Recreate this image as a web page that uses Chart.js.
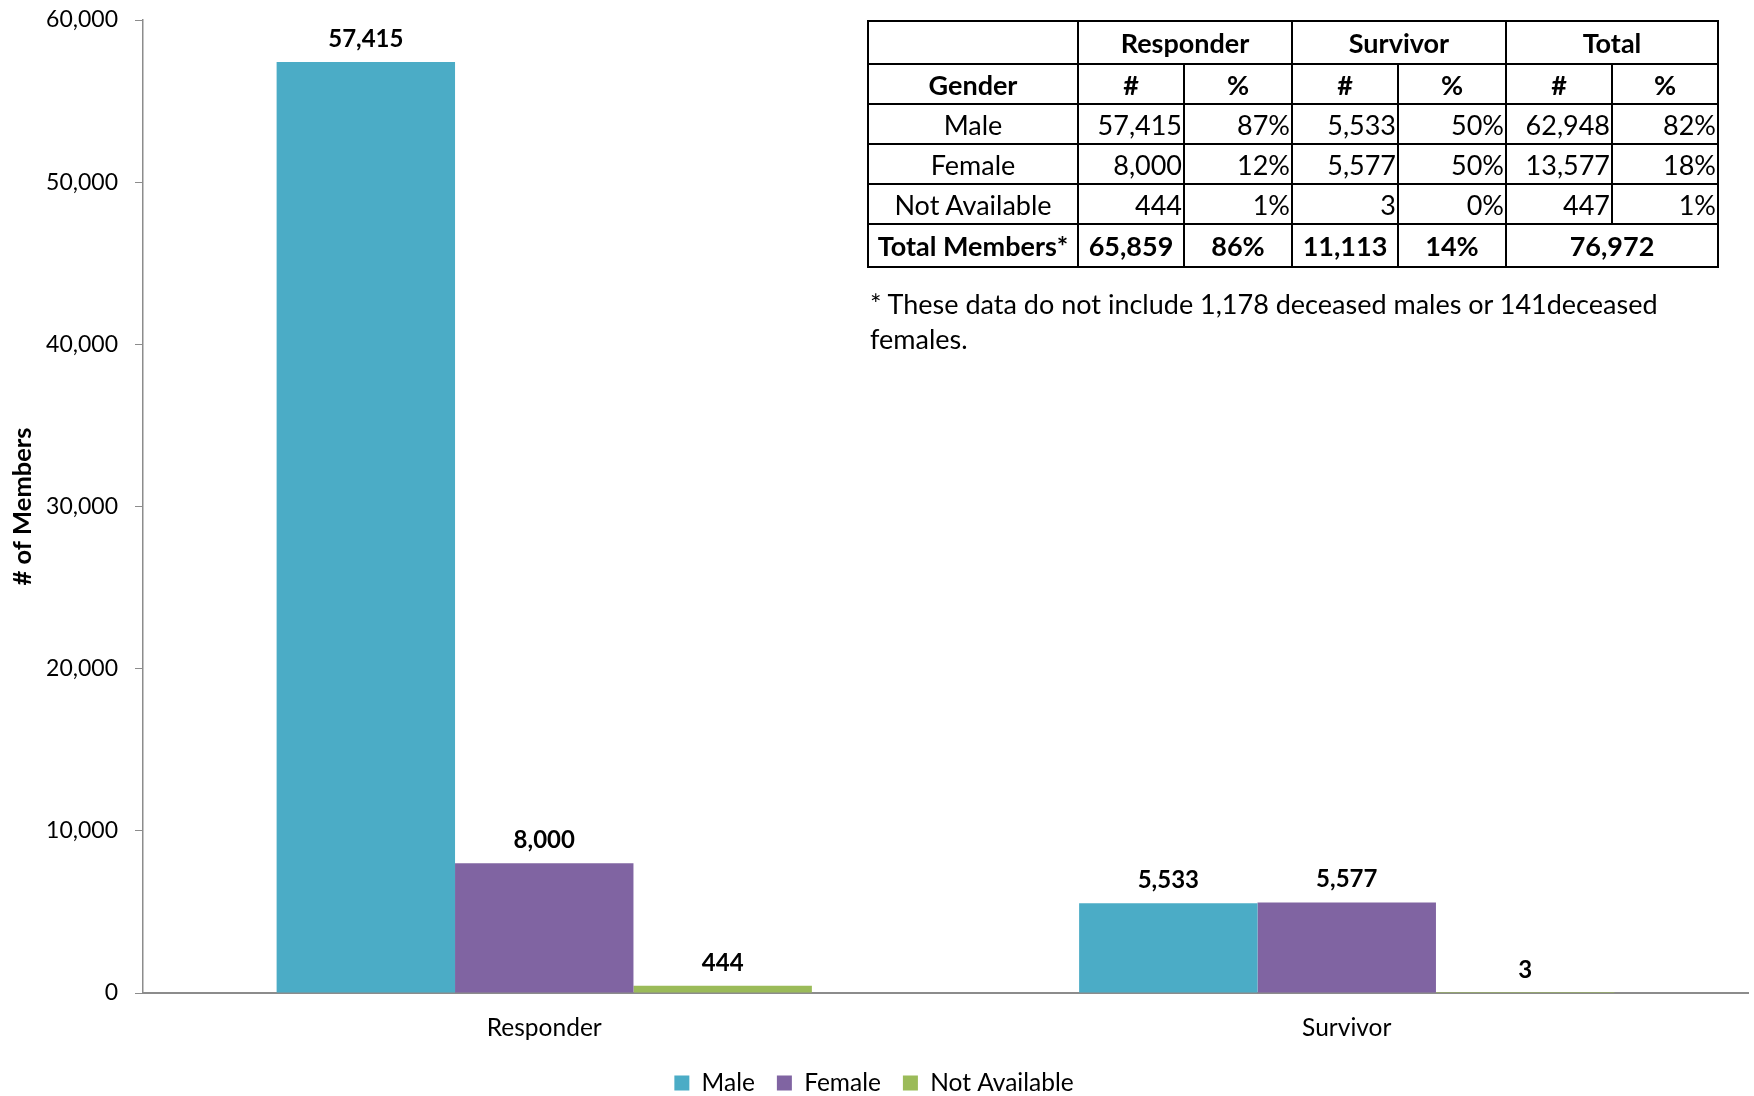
<!DOCTYPE html>
<html>
<head>
<meta charset="utf-8">
<script src="https://cdn.jsdelivr.net/npm/chart.js@4.4.1/dist/chart.umd.min.js"></script>
<style>
    html, body { margin: 0; padding: 0; background: #fff; }
    #wrap { position: relative; width: 1754px; height: 1096px; }
    #chart { position: absolute; left: 0; top: 0; }
    #tbl {
        position: absolute; left: 867px; top: 20px;
        border-collapse: collapse; table-layout: fixed;
        font-family: Lato, sans-serif; font-size: 27px; color: #000;
    }
    #tbl td { border: 2.5px solid #000; padding: 0 2px; text-align: center; white-space: nowrap; line-height: 1; }
    #tbl td.num { text-align: right; padding-right: 1px; }
    #tbl tr.head td, #tbl tr.total td { font-weight: bold; }
    #note {
        position: absolute; left: 870px; top: 286px;
        font-family: Lato, sans-serif; font-size: 27px; line-height: 35px; color: #000;
    }
</style>
</head>
<body>
<div id="wrap">
    <canvas id="chart" width="1754" height="1096"></canvas>
    <table id="tbl"></table>
    <div id="note">* These data do not include 1,178 deceased males or 141deceased<br>females.</div>
</div>
<script>
const categories = ['Responder', 'Survivor'];
const seriesNames = ['Male', 'Female', 'Not Available'];
const maleValues = [57415, 5533];
const femaleValues = [8000, 5577];
const naValues = [444, 3];
const colors = ['#4BACC6', '#8064A2', '#9BBB59'];

// table figures
const responderPct = [87, 12, 1];
const survivorPct = [50, 50, 0];
const totalCounts = [62948, 13577, 447];
const totalPct = [82, 18, 1];
const totalMembers = [65859, 11113, 76972];
const totalMembersPct = [86, 14];

const fmt = v => v.toLocaleString('en-US');

// ---- table ----
const colWidths = [210, 106, 108, 106, 108, 106, 106];
const rowHeights = [43, 40, 40, 40, 40, 43];
const tbl = document.getElementById('tbl');
let html = '<colgroup>' + colWidths.map(w => `<col style="width:${w}px">`).join('') + '</colgroup>';
html += `<tr class="head" style="height:${rowHeights[0]}px"><td></td><td colspan="2">Responder</td><td colspan="2">Survivor</td><td colspan="2">Total</td></tr>`;
html += `<tr class="head" style="height:${rowHeights[1]}px"><td>Gender</td><td>#</td><td>%</td><td>#</td><td>%</td><td>#</td><td>%</td></tr>`;
const seriesVals = [maleValues, femaleValues, naValues];
seriesNames.forEach((g, i) => {
    html += `<tr style="height:${rowHeights[2 + i]}px"><td>${g}</td>` +
        `<td class="num">${fmt(seriesVals[i][0])}</td><td class="num">${responderPct[i]}%</td>` +
        `<td class="num">${fmt(seriesVals[i][1])}</td><td class="num">${survivorPct[i]}%</td>` +
        `<td class="num">${fmt(totalCounts[i])}</td><td class="num">${totalPct[i]}%</td></tr>`;
});
html += `<tr class="total" style="height:${rowHeights[5]}px"><td>Total Members*</td>` +
    `<td>${fmt(totalMembers[0])}</td><td>${totalMembersPct[0]}%</td>` +
    `<td>${fmt(totalMembers[1])}</td><td>${totalMembersPct[1]}%</td>` +
    `<td colspan="2">${fmt(totalMembers[2])}</td></tr>`;
tbl.innerHTML = html;

// ---- value labels above bars ----
const valueLabels = {
    id: 'valueLabels',
    afterDatasetsDraw(chart) {
        const ctx = chart.ctx;
        ctx.save();
        ctx.font = 'bold 24px Lato';
        ctx.fillStyle = '#000';
        ctx.textAlign = 'center';
        ctx.textBaseline = 'middle';
        chart.data.datasets.forEach((ds, i) => {
            chart.getDatasetMeta(i).data.forEach((bar, j) => {
                ctx.fillText(fmt(ds.data[j]), bar.x, bar.y - 23);
            });
        });
        ctx.restore();
    }
};

// legend: keep gaps between items but sit lower on the page
const legendShift = {
    id: 'legendShift',
    beforeLayout(chart) {
        const lg = chart.legend;
        if (lg && !lg._shifted) {
            const fit = lg.fit.bind(lg);
            lg.fit = function () { fit(); this.height -= 9.25; };
            lg._shifted = true;
        }
    }
};

new Chart(document.getElementById('chart').getContext('2d'), {
    type: 'bar',
    data: {
        labels: categories,
        datasets: [
            { label: seriesNames[0], data: maleValues, backgroundColor: colors[0] },
            { label: seriesNames[1], data: femaleValues, backgroundColor: colors[1] },
            { label: seriesNames[2], data: naValues, backgroundColor: colors[2] }
        ]
    },
    options: {
        responsive: false,
        animation: false,
        layout: { padding: { top: 20, right: 6, left: 0, bottom: 0 } },
        datasets: { bar: { categoryPercentage: 0.667, barPercentage: 1.0 } },
        plugins: {
            legend: {
                position: 'bottom',
                labels: {
                    font: { family: 'Lato', size: 24.5 },
                    color: '#000',
                    boxWidth: 15,
                    boxHeight: 15,
                    padding: 22
                }
            },
            tooltip: { enabled: false }
        },
        scales: {
            x: {
                grid: { display: false, drawTicks: false },
                border: { display: true, color: '#8c8c8c', width: 2 },
                ticks: { font: { family: 'Lato', size: 24.5 }, color: '#000', padding: 20 },
                afterFit(scale) { scale.height = 55.75; }
            },
            y: {
                min: 0,
                max: 60000,
                ticks: {
                    stepSize: 10000,
                    font: { family: 'Lato', size: 23 },
                    color: '#000',
                    padding: 17,
                    callback: v => fmt(v)
                },
                grid: { drawOnChartArea: false, drawTicks: true, tickLength: 8, color: '#8c8c8c' },
                border: { display: true, color: '#8c8c8c', width: 1.5 },
                title: {
                    display: true,
                    text: '# of Members',
                    font: { family: 'Lato', size: 25.5, weight: 'bold' },
                    color: '#000',
                    padding: { top: 7, bottom: 0 }
                },
                afterFit(scale) {
                    scale.width = 143;
                    scale.paddingTop = 0;
                    scale.paddingBottom = 0;
                }
            }
        }
    },
    plugins: [valueLabels, legendShift]
});
</script>
</body>
</html>
